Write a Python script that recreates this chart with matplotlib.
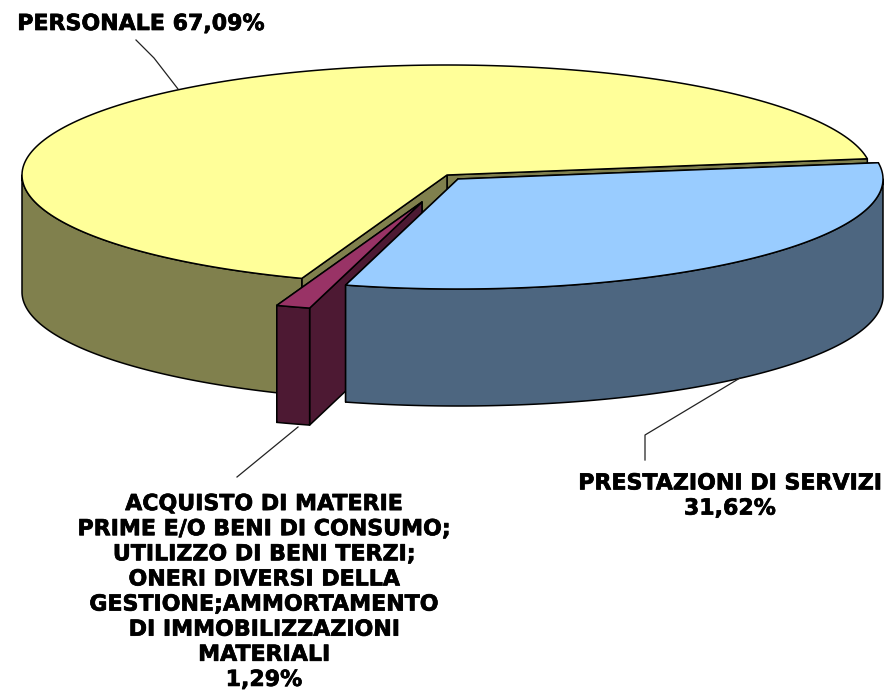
#!/usr/bin/env python3
import numpy as np
import matplotlib
matplotlib.use("Agg")
import matplotlib.pyplot as plt
import matplotlib.patheffects as pe
from matplotlib.patches import Polygon

labels = ["PERSONALE 67,09%",
          "PRESTAZIONI DI SERVIZI\n31,62%",
          "ACQUISTO DI MATERIE\nPRIME E/O BENI DI CONSUMO;\nUTILIZZO DI BENI TERZI;\n"
          "ONERI DIVERSI DELLA\nGESTIONE;AMMORTAMENTO\nDI IMMOBILIZZAZIONI\nMATERIALI\n1,29%"]
values = [67.09, 31.62, 1.29]
top_colors = ["#FFFF99", "#99CCFF", "#993366"]
wall_colors = ["#80804D", "#4D6680", "#4D1933"]

# pie geometry in image pixels
W, H = 888, 693
CX, CY = 447, 175
RX, RY = 425, 110
DEPTH = 117
START = 8.5
# how far each slice is pulled out (x, y pixels)
offsets = [(0, 0), (11, 4), (-25, 27)]

fig = plt.figure(figsize=(W / 100, H / 100), dpi=100)
ax = fig.add_axes([0, 0, 1, 1])
ax.set_xlim(0, W)
ax.set_ylim(H, 0)
ax.axis("off")


def arc(cx, cy, a0, a1):
    t = np.radians(np.linspace(a0, a1, 200))
    return np.column_stack([cx + RX * np.cos(t), cy - RY * np.sin(t)])


def poly(pts, color, z):
    ax.add_patch(Polygon(pts, closed=True, facecolor=color, edgecolor="black",
                         linewidth=1.1, joinstyle="round", zorder=z))


def draw_slice(a0, a1, off, top, wall, z):
    cx, cy = CX + off[0], CY + off[1]
    down = np.array([0, DEPTH])
    centre = np.array([cx, cy])
    edge = arc(cx, cy, a0, a1)
    # radial walls
    for p in (edge[0], edge[-1]):
        poly([centre, p, p + down, centre + down], wall, z)
    # outer wall, front half of the ellipse only
    lo, hi = max(a0, 180), min(a1, 360)
    if lo < hi:
        front = arc(cx, cy, lo, hi)
        poly(np.vstack([front, (front + down)[::-1]]), wall, z)
    poly(np.vstack([centre, edge]), top, z + 0.5)


# slices run clockwise from START, the yellow one first going counter-clockwise
angles = np.array(values) / sum(values) * 360
a_yellow = (START, START + angles[0])
a_blue = (START - angles[1], START)
a_purple = (a_yellow[1], a_yellow[1] + angles[2])

draw_slice(a_yellow[0], a_yellow[1], offsets[0], top_colors[0], wall_colors[0], 1)
draw_slice(a_purple[0], a_purple[1], offsets[2], top_colors[2], wall_colors[2], 2)
draw_slice(a_blue[0] + 360, a_blue[1] + 360, offsets[1], top_colors[1], wall_colors[1], 3)

# leader lines
ax.plot([136, 154, 178], [40, 58, 89], color="#222222", lw=0.9, zorder=5)
ax.plot([645, 645, 740], [460, 435, 378], color="#222222", lw=0.9, zorder=5)
ax.plot([237, 298], [477, 427], color="#222222", lw=0.9, zorder=5)

# labels, with a thin stroke because the original face is heavier
font = dict(fontsize=15.9, fontweight="bold", family="DejaVu Sans", color="black",
            ha="center", va="center", linespacing=1.32,
            path_effects=[pe.withStroke(linewidth=0.5, foreground="black")])
ax.text(141, 24, labels[0], **font)
ax.text(730, 496, labels[1], **font)
ax.text(264, 592, labels[2], **font)

fig.savefig("out.png", dpi=100)
